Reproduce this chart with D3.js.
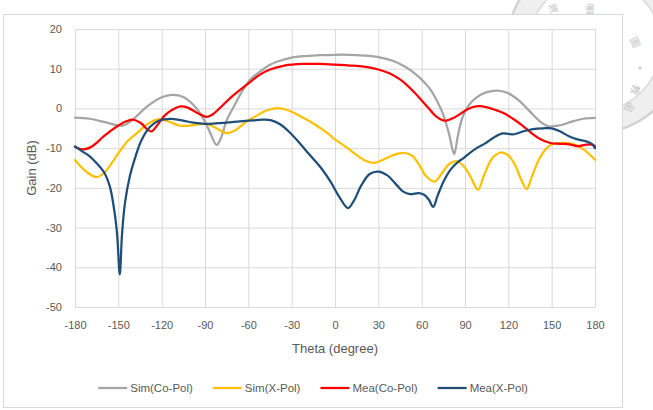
<!DOCTYPE html>
<html>
<head>
<meta charset="utf-8">
<script src="https://cdn.jsdelivr.net/npm/d3@7"></script>
<style>
  body { margin: 0; background: #fff; }
  svg { display: block; }
</style>
</head>
<body>
<svg id="chart"></svg>
<script>
// tick values
const xTicks = [-180, -150, -120, -90, -60, -30, 0, 30, 60, 90, 120, 150, 180];
const yTicks = [20, 10, 0, -10, -20, -30, -40, -50];

// series: [theta (deg), gain (dB)]
const simCoPol = [[-180,-2.3],[-170,-2.6],[-160,-3.4],[-150,-4.3],[-146,-4.2],[-140,-2.8],[-130,0.5],[-120,2.8],[-113,3.4],[-105,2.9],[-97,0.5],[-90,-3.3],[-86,-6.5],[-82,-9.2],[-79,-7.5],[-75,-3],[-70,0.5],[-64,4.5],[-58,7.5],[-50,9.8],[-45,11],[-38,12],[-30,12.8],[-20,13.2],[-10,13.4],[0,13.5],[10,13.5],[20,13.3],[30,12.9],[40,12],[48,10.6],[56,8.6],[62,6.5],[66,4.8],[70,2.3],[75,-1.6],[79,-6.5],[82.5,-11.5],[85,-7],[88,-2.5],[92,0.5],[98,2.8],[105,4.1],[113,4.5],[120,3.8],[128,1.8],[135,-0.8],[142,-3.3],[148,-4.5],[155,-4.3],[165,-3.2],[172,-2.6],[180,-2.4]];

const simXPol = [[-180,-13],[-172,-16],[-165,-17.3],[-160,-16.3],[-155,-14],[-150,-11.3],[-143,-8],[-137,-6.2],[-130,-4],[-122,-2.7],[-115,-3.3],[-108,-4.3],[-102,-4.4],[-95,-4],[-89,-3.9],[-83,-4.8],[-75,-6.2],[-69,-5.5],[-62,-3.5],[-55,-2],[-48,-0.6],[-40,0.1],[-33,-0.4],[-25,-1.8],[-15,-3.8],[-5,-6.3],[0,-7.8],[8,-9.8],[16,-12],[22,-13.3],[27,-13.7],[33,-13],[40,-11.8],[47,-11.2],[53,-11.8],[58,-14],[63,-17],[69,-18.4],[74,-16.3],[79,-14],[84,-13.3],[89,-14.5],[94,-17.3],[99,-20.5],[103,-17],[108,-13],[112,-11.5],[116,-11.1],[120,-11.8],[125,-14.5],[129,-18],[132.7,-20.3],[136,-17.5],[141,-13],[146,-10.2],[150,-9.1],[158,-8.7],[165,-9],[172,-10.3],[180,-12.9]];

const meaCoPol = [[-180,-9.7],[-174,-10.3],[-168,-9.5],[-160,-7],[-152,-4.8],[-145,-3.3],[-140,-2.8],[-134,-3.8],[-130,-5.3],[-127,-5.8],[-123,-4.2],[-118,-1.8],[-112,-0.2],[-107,0.5],[-102,0.2],[-96,-1],[-89,-2.1],[-85,-1.6],[-80,0],[-72,2.8],[-61,6],[-52,8.5],[-45,9.8],[-35,10.8],[-22,11.2],[-10,11.2],[0,11],[10,10.8],[20,10.5],[30,9.8],[38,8.8],[45,7.3],[50,5.8],[55,4],[60,2],[65,0],[70,-2],[76,-3.1],[82,-2.4],[90,-0.6],[95,0.3],[100,0.6],[106,0.2],[112,-0.5],[117,-1.2],[124,-2.8],[130,-4.4],[135,-5.9],[142,-7.7],[149,-8.7],[156,-8.9],[163,-9.1],[168,-9.5],[174,-9.1],[178,-9.1],[180,-9.5]];

const meaXPol = [[-180,-9.6],[-175,-10.8],[-170,-12],[-165,-13.8],[-160,-16],[-156,-19.5],[-153.5,-24],[-151,-31],[-149,-41.8],[-147.5,-32],[-145.4,-23.8],[-142,-17],[-138,-12],[-134,-8],[-128,-4.6],[-122,-3.1],[-114,-2.6],[-106,-3],[-98,-3.6],[-90,-3.9],[-80,-3.7],[-70,-3.4],[-60,-3.1],[-50,-2.85],[-44,-3],[-38,-4],[-32,-5.8],[-25,-8.5],[-18,-11.5],[-10,-14.8],[-3,-18.5],[3,-22.3],[9,-25.1],[13,-23.3],[18,-19.5],[24,-16.5],[30,-15.9],[36,-16.8],[42,-19],[47,-20.9],[52,-21.6],[58,-21.3],[62,-21.8],[65,-23],[68,-24.8],[71,-22],[75,-18.5],[80,-15.4],[85,-13.5],[89,-12.5],[93,-11.3],[98,-10],[104,-8.8],[110,-7.3],[116,-6.3],[120,-6.4],[124,-6.5],[130,-5.8],[137,-5.2],[144,-5],[150,-5],[156,-5.8],[162,-7],[168,-7.8],[174,-8.3],[178,-9],[180,-10]];

const seriesNames = ["Sim(Co-Pol)", "Sim(X-Pol)", "Mea(Co-Pol)", "Mea(X-Pol)"];
const seriesData = [simCoPol, simXPol, meaCoPol, meaXPol];

// seal watermark characters
const sealChars = ["灣", "書", "圖", "教", "品"];

let layout = {"width": 653, "height": 410,
              "marginTop": 29, "marginRight": 58,
              "marginBottom": 103, "marginLeft": 75};

const font = "'Liberation Sans', Arial, sans-serif";
const textColor = "#595959";

let svg = d3.select("#chart")
  .attr("width", layout.width)
  .attr("height", layout.height);

// faint seal watermark behind the chart
let seal = svg.append("g").attr("id", "seal");
seal.append("circle").attr("cx", 595).attr("cy", 45).attr("r", 77)
  .attr("fill", "none").attr("stroke", "#efefef").attr("stroke-width", 22);
seal.append("circle").attr("cx", 595).attr("cy", 45).attr("r", 88)
  .attr("fill", "none").attr("stroke", "#d2d2d2").attr("stroke-width", 2.5);
seal.append("circle").attr("cx", 595).attr("cy", 45).attr("r", 66)
  .attr("fill", "none").attr("stroke", "#dadada").attr("stroke-width", 1.5);
const sealPos = [[553, 8, -20], [590, 8, 0], [636, 42, 65], [636, 90, 110], [630, 108, 125]];
seal.selectAll("text").data(sealChars).join("text")
  .attr("transform", (d, i) => `translate(${sealPos[i][0]},${sealPos[i][1]}) rotate(${sealPos[i][2]})`)
  .attr("text-anchor", "middle").attr("dominant-baseline", "central")
  .attr("font-family", "'Noto Sans CJK TC', sans-serif").attr("font-size", 10)
  .attr("fill", "#c4c4c4").text(d => d);
seal.append("circle").attr("cx", 640).attr("cy", 68).attr("r", 1.5).attr("fill", "#c8c8c8");

// chart area
svg.append("rect").attr("x", 3.5).attr("y", 14.5).attr("width", 619).attr("height", 393)
  .attr("fill", "#fff").attr("stroke", "#d9d9d9").attr("stroke-width", 1);

let xScale = d3.scaleLinear().domain([-180, 180])
  .range([layout.marginLeft, layout.width - layout.marginRight]);
let yScale = d3.scaleLinear().domain([-50, 20])
  .range([layout.height - layout.marginBottom, layout.marginTop]);

const innerW = xScale.range()[1] - xScale.range()[0];
const innerH = yScale.range()[0] - yScale.range()[1];

// grid
svg.append("g").attr("id", "xGrid")
  .attr("transform", `translate(0, ${yScale(-50)})`)
  .call(d3.axisBottom(xScale).tickValues(xTicks).tickSize(-innerH).tickFormat(""))
  .call(g => g.select(".domain").remove())
  .call(g => g.selectAll("line").attr("stroke", "#d9d9d9").attr("stroke-width", 1));

svg.append("g").attr("id", "yGrid")
  .attr("transform", `translate(${xScale(-180)}, 0)`)
  .call(d3.axisLeft(yScale).tickValues(yTicks).tickSize(-innerW).tickFormat(""))
  .call(g => g.select(".domain").remove())
  .call(g => g.selectAll("line").attr("stroke", "#d9d9d9").attr("stroke-width", 1));

// tick labels (plain hyphen minus, as in the figure)
svg.append("g").attr("id", "xAxis")
  .attr("transform", `translate(0, ${yScale(-50)})`)
  .call(d3.axisBottom(xScale).tickValues(xTicks).tickSize(0).tickPadding(14).tickFormat(d => String(d)))
  .call(g => g.select(".domain").remove())
  .call(g => g.selectAll("text").attr("fill", textColor).attr("font-family", font).attr("font-size", 11));

svg.append("g").attr("id", "yAxis")
  .attr("transform", `translate(${xScale(-180)}, 0)`)
  .call(d3.axisLeft(yScale).tickValues(yTicks).tickSize(0).tickPadding(13).tickFormat(d => String(d)))
  .call(g => g.select(".domain").remove())
  .call(g => g.selectAll("text").attr("fill", textColor).attr("font-family", font).attr("font-size", 11));

// axis titles
svg.append("text").attr("id", "xTitle")
  .attr("x", xScale(0)).attr("y", 352.5)
  .attr("text-anchor", "middle").attr("fill", textColor)
  .attr("font-family", font).attr("font-size", 13)
  .text("Theta (degree)");

svg.append("text").attr("id", "yTitle")
  .attr("transform", `translate(36, ${(yScale(20) + yScale(-50)) / 2}) rotate(-90)`)
  .attr("text-anchor", "middle").attr("fill", textColor)
  .attr("font-family", font).attr("font-size", 13)
  .text("Gain (dB)");

let colorScale = d3.scaleOrdinal()
  .domain(seriesNames)
  .range(["#a5a5a5", "#ffc000", "#ff0000", "#1f4e79"]);

let line = d3.line()
  .x(d => xScale(d[0]))
  .y(d => yScale(d[1]))
  .curve(d3.curveCatmullRom.alpha(0.5));

svg.append("g").attr("id", "mark")
  .selectAll("path")
  .data(seriesNames)
  .join("path")
  .attr("fill", "none")
  .attr("stroke", d => colorScale(d))
  .attr("stroke-width", 2.25)
  .attr("stroke-linejoin", "round")
  .attr("stroke-linecap", "round")
  .attr("d", (d, i) => line(seriesData[i]));

// legend, centred under the chart area
let legend = svg.append("g").attr("id", "legend");
let items = legend.selectAll("g").data(seriesNames).join("g");
items.append("line")
  .attr("x1", 0).attr("x2", 29).attr("y1", 0).attr("y2", 0)
  .attr("stroke", d => colorScale(d)).attr("stroke-width", 2.25);
items.append("text")
  .attr("x", 32).attr("y", 0).attr("dy", "0.35em")
  .attr("fill", textColor).attr("font-family", font).attr("font-size", 11.5)
  .text(d => d);

let widths = [];
items.select("text").each(function() { widths.push(32 + this.getComputedTextLength()); });
const gap = 20;
const total = d3.sum(widths) + gap * (widths.length - 1);
let start = 313 - total / 2;
items.attr("transform", (d, i) => {
  const x = start + d3.sum(widths.slice(0, i)) + gap * i;
  return `translate(${x}, 388)`;
});
</script>
</body>
</html>
